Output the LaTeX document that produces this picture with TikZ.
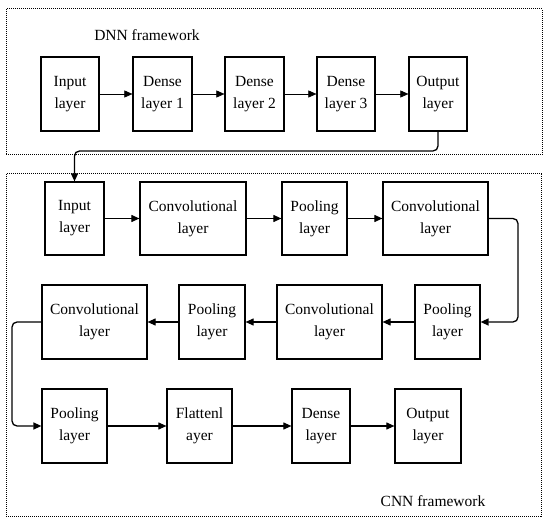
\documentclass[tikz,border=0pt]{standalone}
\usepackage{fontspec}
\setmainfont{Liberation Serif}
\usetikzlibrary{arrows.meta}
\begin{document}
\begin{tikzpicture}[x=1pt,y=-1pt,
  txt/.style={font=\fontsize{15.5}{22}\selectfont},
  layerbox/.style={draw,line width=1.2pt,txt,align=center,minimum height=74pt,inner sep=0pt},
  frame/.style={draw,densely dotted,line width=1pt},
  thinarrow/.style={line width=0.6pt,-{Triangle[length=8pt,width=7pt]}},
  arr/.style={line width=1.1pt,-{Triangle[length=8pt,width=7pt]}},
  link/.style={line width=1.3pt,rounded corners=5pt,-{Triangle[length=8pt,width=7pt]}}]
\useasboundingbox (0,0) rectangle (550,524);
\fill[white] (0,0) rectangle (550,524);
% frames
\draw[frame] (6,9) rectangle (542,155);
\draw[frame] (6,174) rectangle (541,516);
\node[txt] (dnnlabel) at (147,35) {DNN framework};
\node[txt] (cnnlabel) at (433,501) {CNN framework};
% DNN row
\node[layerbox,minimum width=58pt] (d1) at (70,94) {Input\\layer};
\node[layerbox,minimum width=59pt] (d2) at (162.5,94) {Dense\\layer 1};
\node[layerbox,minimum width=59pt] (d3) at (254.5,94) {Dense\\layer 2};
\node[layerbox,minimum width=58pt] (d4) at (346,94) {Dense\\layer 3};
\node[layerbox,minimum width=58pt] (d5) at (438,94) {Output\\layer};
\draw[thinarrow] (d1) -- (d2);
\draw[thinarrow] (d2) -- (d3);
\draw[thinarrow] (d3) -- (d4);
\draw[thinarrow] (d4) -- (d5);
% CNN row 1
\node[layerbox,minimum width=59pt,minimum height=73pt] (a1) at (74.5,218.5) {Input\\layer};
\node[layerbox,minimum width=106pt,minimum height=73pt] (a2) at (193,218.5) {Convolutional\\layer};
\node[layerbox,minimum width=65pt,minimum height=73pt] (a3) at (314.5,218.5) {Pooling\\layer};
\node[layerbox,minimum width=105pt,minimum height=73pt] (a4) at (435.5,218.5) {Convolutional\\layer};
% CNN row 2
\node[layerbox,minimum width=65pt] (b1) at (447.5,322) {Pooling\\layer};
\node[layerbox,minimum width=105pt] (b2) at (329.5,322) {Convolutional\\layer};
\node[layerbox,minimum width=66pt] (b3) at (212,322) {Pooling\\layer};
\node[layerbox,minimum width=105pt] (b4) at (94.5,322) {Convolutional\\layer};
% CNN row 3
\node[layerbox,minimum width=65pt] (c1) at (74.5,426) {Pooling\\layer};
\node[layerbox,minimum width=65pt] (c2) at (199.5,426) {Flattenl\\ayer};
\node[layerbox,minimum width=58pt] (c3) at (321,426) {Dense\\layer};
\node[layerbox,minimum width=66pt] (c4) at (428,426) {Output\\layer};
% arrows
\draw[arr] (a1) -- (a2);
\draw[arr] (a2) -- (a3);
\draw[arr] (a3) -- (a4);
\draw[arr] (b1) -- (b2);
\draw[arr] (b2) -- (b3);
\draw[arr] (b3) -- (b4);
\draw[arr] (c1) -- (c2);
\draw[arr] (c2) -- (c3);
\draw[arr] (c3) -- (c4);
% links
\coordinate (k1) at (74.5,151);
\coordinate (k2) at (518,218.5);
\coordinate (k3) at (12,322);
\draw[link] (d5.south) |- (k1) -- (a1.north);
\draw[link] (a4.east) -- (k2) |- (b1.east);
\draw[link] (b4.west) -- (k3) |- (c1.west);
\end{tikzpicture}
\end{document}
